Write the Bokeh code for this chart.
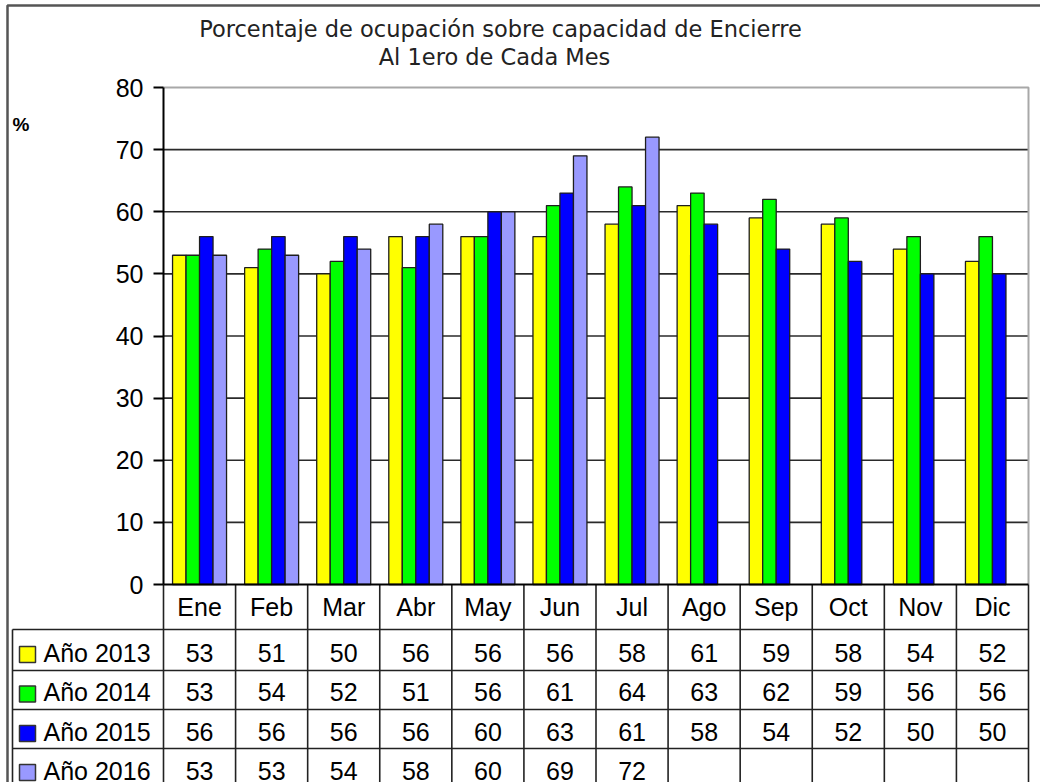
from bokeh.plotting import figure
from bokeh.models import LinearAxis, FixedTicker, Range1d
from bokeh.core.properties import value
from bokeh.embed import file_html
from bokeh.resources import INLINE

# ---------------- data ----------------
months = ["Ene", "Feb", "Mar", "Abr", "May", "Jun", "Jul", "Ago", "Sep", "Oct", "Nov", "Dic"]
years = ["Año 2013", "Año 2014", "Año 2015", "Año 2016"]
v2013 = [53, 51, 50, 56, 56, 56, 58, 61, 59, 58, 54, 52]
v2014 = [53, 54, 52, 51, 56, 61, 64, 63, 62, 59, 56, 56]
v2015 = [56, 56, 56, 56, 60, 63, 61, 58, 54, 52, 50, 50]
v2016 = [53, 53, 54, 58, 60, 69, 72]
colors = ["#FFFF00", "#00FF00", "#0000FF", "#9999FF"]
title_lines = ["Porcentaje de ocupación sobre capacidad de Encierre", "Al 1ero de Cada Mes"]
y_ticks = [0, 10, 20, 30, 40, 50, 60, 70, 80]
grid_vals = [10, 20, 30, 40, 50, 60, 70]
series = [v2013, v2014, v2015, v2016]

# ---------------- layout (window pixels) ----------------
W, H = 1040, 782
OX, OY = 0, 0
PL, PR = 163, 1028      # plot left / right
PT, PB = 87, 584        # pixel of 80 and of 0
YMAX = 80
col_w = (PR - PL) / len(months)
ysc = (PB - PT) / YMAX


def X(wx):
    return (wx - PL) / col_w - 0.5


def Y(wy):
    return (PB - wy) / ysc


ARIAL = value("Liberation Sans")
FS = "25px"

p = figure(width=W, height=H,
           x_range=Range1d(X(OX), X(OX + W)), y_range=Range1d(Y(OY + H), Y(OY)),
           output_backend="svg", toolbar_location=None,
           x_axis_type=None, y_axis_type=None, min_border=0,
           outline_line_color=None, background_fill_color="white",
           border_fill_color="white")

# grid lines
n = len(months)
p.segment(x0=[-0.5] * len(grid_vals), x1=[n - 0.5] * len(grid_vals),
          y0=grid_vals, y1=grid_vals, line_color="#2a2a2a", line_width=1.6)
# gray top / right border of plot area
p.line(x=[-0.5, n - 0.5, n - 0.5], y=[YMAX, YMAX, 0], line_color="#a8a8a8", line_width=2)

# bars
bw = 13.5 / col_w
for k, (vals, c) in enumerate(zip(series, colors)):
    xs = [i + (k - 1.5) * bw for i in range(len(vals))]
    p.vbar(x=xs, top=vals, bottom=0, width=bw, fill_color=c,
           line_color="#1e1e1e", line_width=1.3)

# axes
yax = LinearAxis(fixed_location=-0.5, bounds=(0, YMAX), ticker=FixedTicker(ticks=y_ticks),
                 axis_line_width=2, axis_line_color="black",
                 major_tick_line_width=2, major_tick_out=10, major_tick_in=0,
                 minor_tick_out=0, minor_tick_in=0, major_label_standoff=10,
                 major_label_text_font="Liberation Sans", major_label_text_font_size=FS,
                 major_label_text_color="black")
p.add_layout(yax, "left")

xax = LinearAxis(fixed_location=0, bounds=(-0.5, n - 0.5),
                 ticker=FixedTicker(ticks=list(range(n))),
                 major_label_overrides={i: m for i, m in enumerate(months)},
                 axis_line_width=2, axis_line_color="black",
                 major_tick_out=0, major_tick_in=0, minor_tick_out=0, minor_tick_in=0,
                 major_label_standoff=8,
                 major_label_text_font="Liberation Sans", major_label_text_font_size=FS,
                 major_label_text_color="black")
p.add_layout(xax, "below")

# data table lines
TBOT = OY + H + 10
row_lines = [629, 670, 709, 748]
p.segment(x0=[X(12)] * len(row_lines), x1=[n - 0.5] * len(row_lines),
          y0=[Y(r) for r in row_lines], y1=[Y(r) for r in row_lines],
          line_color="#222222", line_width=1.6)
vx = [k - 0.5 for k in range(n + 1)]
p.segment(x0=vx, x1=vx, y0=[0] * len(vx), y1=[Y(TBOT)] * len(vx),
          line_color="#222222", line_width=1.6)
p.segment(x0=[X(12)], x1=[X(12)], y0=[Y(629)], y1=[Y(TBOT)],
          line_color="#222222", line_width=1.6)

# table values
row_centers = [652, 691.5, 731, 770]
for vals, rc in zip(series, row_centers):
    p.text(x=list(range(len(vals))), y=[Y(rc)] * len(vals), text=[str(v) for v in vals],
           text_font=ARIAL, text_font_size=FS, text_align="center",
           text_baseline="middle", text_color="black")

# legend keys in table
p.scatter(x=[X(27)] * len(years), y=[Y(rc + 2) for rc in row_centers], marker="square",
          size=16, fill_color=colors, line_color="#333333", line_width=1.5)
p.text(x=[X(43)] * len(years), y=[Y(rc) for rc in row_centers], text=years,
       text_font=ARIAL, text_font_size=FS, text_align="left",
       text_baseline="middle", text_color="black")

# title
p.text(x=[X(500), X(494)], y=[Y(28), Y(56)], text=title_lines,
       text_font=value("DejaVu Sans"), text_font_size="22.5px", text_align="center",
       text_baseline="alphabetic", text_color="#222222")
# % label
p.text(x=[X(12)], y=[Y(124)], text=["%"], text_font=ARIAL, text_font_size="19px",
       text_font_style="bold", text_align="left", text_baseline="alphabetic",
       text_color="black")

# outer border
p.line(x=[X(7), X(7), X(OX + W)], y=[Y(TBOT), Y(5), Y(5)], line_color="#555555", line_width=2.5)

open("out.html", "w").write(file_html(p, INLINE))
